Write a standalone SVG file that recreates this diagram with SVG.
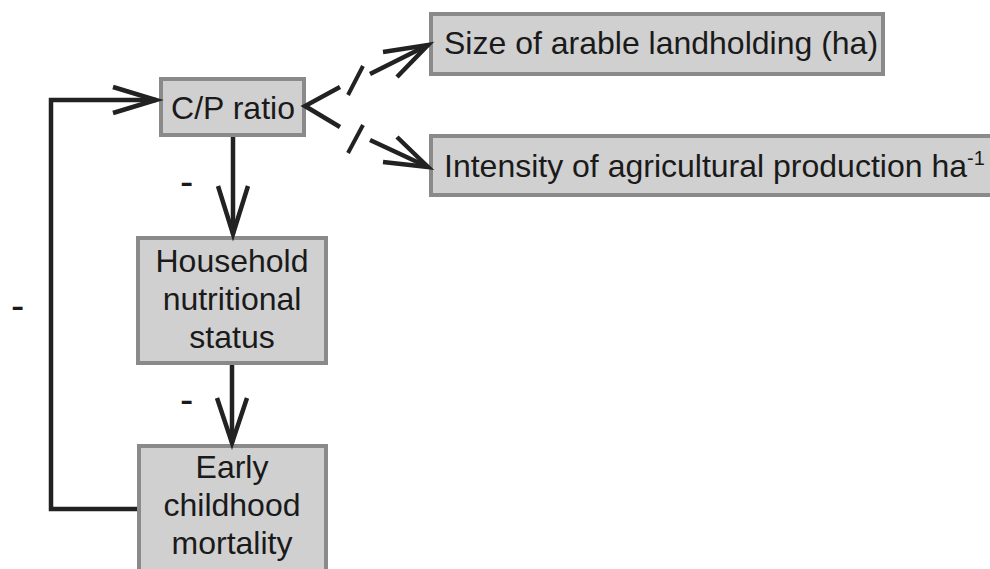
<svg xmlns="http://www.w3.org/2000/svg" width="990" height="569" viewBox="0 0 990 569">
<style>
.box{fill:#d0d0d0;stroke:#8a8a8a;stroke-width:4}
.t{font-family:"Liberation Sans",Arial,sans-serif;font-size:32px;fill:#1a1a1a}
.m{font-family:"Liberation Sans",Arial,sans-serif;font-size:40px;fill:#1a1a1a}
.c{text-anchor:middle}
.ln{fill:none;stroke:#222;stroke-width:4.5;stroke-linecap:butt;stroke-linejoin:miter}
.sl{fill:none;stroke:#222;stroke-width:4}
</style>
<rect width="990" height="569" fill="#fff"/>
<g id="node-cp"><rect class="box" x="161" y="79" width="143" height="56"/><text class="t c" x="233" y="119">C/P ratio</text></g>
<g id="node-size"><rect class="box" x="431" y="14" width="452" height="60"/><text class="t" x="444" y="54">Size of arable landholding (ha)</text></g>
<g id="node-intensity"><rect class="box" x="431" y="136" width="565" height="59"/><text class="t" x="444" y="177">Intensity of agricultural production ha<tspan font-size="20" dy="-12">-1</tspan></text></g>
<g id="node-household"><rect class="box" x="138" y="238" width="188" height="125"/><text class="t c" x="232" y="272">Household</text><text class="t c" x="232" y="310">nutritional</text><text class="t c" x="232" y="348">status</text></g>
<g id="node-early"><rect class="box" x="139" y="446" width="187" height="130"/><text class="t c" x="232" y="478">Early</text><text class="t c" x="232" y="516">childhood</text><text class="t c" x="232" y="554">mortality</text></g>
<g id="connectors">
<path class="ln" d="M137,509 H51 V100 H156"/>
<path class="ln" d="M113,87 L156,100 L113,113"/>
<path class="ln" d="M233,137 V234"/>
<path class="ln" d="M218,186 L233,234 L248,186"/>
<path class="ln" d="M232,365 V443"/>
<path class="ln" d="M217,398 L232,443 L247,398"/>
<path class="ln" d="M340,87 L305,106 L340,127"/>
<path class="ln" d="M370,74 L428,45"/>
<path class="ln" d="M383,52 L428,45 L397,77"/>
<path class="sl" d="M348,95 L363,66"/>
<path class="ln" d="M370,140 L428,167"/>
<path class="ln" d="M397,137 L428,167 L383,162"/>
<path class="sl" d="M348,153 L363,125"/>
<text class="m" x="180" y="195">-</text>
<text class="m" x="180" y="413">-</text>
<text class="m" x="11" y="319">-</text>
</g>
</svg>
